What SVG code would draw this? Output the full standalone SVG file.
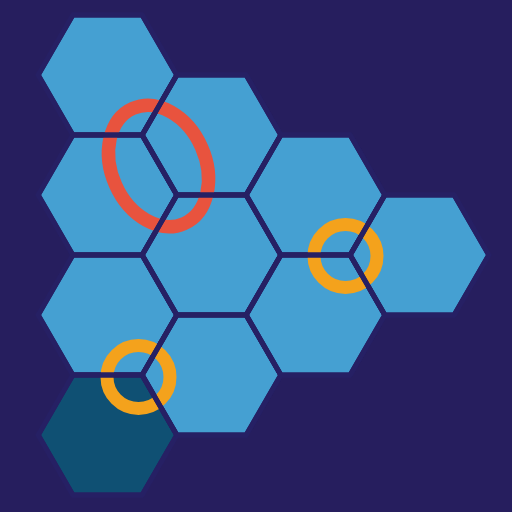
<svg xmlns="http://www.w3.org/2000/svg" xmlns:xlink="http://www.w3.org/1999/xlink" width="512" height="512" viewBox="0 0 512 512">
  <defs>
    <polygon id="hex" points="-69.3,0 -34.65,-60 34.65,-60 69.3,0 34.65,60 -34.65,60"/>
    <style>
      .cell { fill: #45A0D2; stroke: #262064; stroke-width: 5; stroke-linejoin: miter; }
      .cell.dark { fill: #0F5073; }
      .edge { fill: none; stroke: #262064; stroke-width: 5; stroke-linejoin: miter; }
      .ring { fill: none; stroke-width: 13; }
      .red { stroke: #E8533E; stroke-width: 13.5; }
      .orange { stroke: #F4A21C; }
    </style>
  </defs>
  <rect x="0" y="0" width="512" height="512" fill="#261E5E"/>

  <g id="hex-c0-r0"><use xlink:href="#hex" href="#hex" class="cell" x="107.5" y="75"/></g>
  <g id="hex-c0-r1"><use xlink:href="#hex" href="#hex" class="cell" x="107.5" y="195"/></g>
  <g id="hex-c0-r2"><use xlink:href="#hex" href="#hex" class="cell" x="107.5" y="315"/></g>
  <g id="hex-c0-r3"><use xlink:href="#hex" href="#hex" class="cell dark" x="107.5" y="435"/></g>
  <g id="hex-c1-r0"><use xlink:href="#hex" href="#hex" class="cell" x="211.5" y="135"/></g>
  <g id="hex-c1-r1"><use xlink:href="#hex" href="#hex" class="cell" x="211.5" y="255"/></g>
  <g id="hex-c1-r2"><use xlink:href="#hex" href="#hex" class="cell" x="211.5" y="375"/></g>
  <g id="hex-c2-r0"><use xlink:href="#hex" href="#hex" class="cell" x="315.5" y="195"/></g>
  <g id="hex-c2-r1"><use xlink:href="#hex" href="#hex" class="cell" x="315.5" y="315"/></g>
  <g id="hex-c3-r0"><use xlink:href="#hex" href="#hex" class="cell" x="419.5" y="255"/></g>

  <g id="rings">
    <ellipse class="ring red" cx="0" cy="0" rx="47" ry="63" transform="translate(158.5,166) rotate(-24)"/>
    <circle class="ring orange" cx="345.5" cy="256" r="31.5"/>
    <circle class="ring orange" cx="138.5" cy="377" r="31.5"/>
  </g>

  <g id="edges">
    <use xlink:href="#hex" href="#hex" class="edge" x="107.5" y="75"/>
    <use xlink:href="#hex" href="#hex" class="edge" x="107.5" y="195"/>
    <use xlink:href="#hex" href="#hex" class="edge" x="107.5" y="315"/>
    <use xlink:href="#hex" href="#hex" class="edge" x="107.5" y="435"/>
    <use xlink:href="#hex" href="#hex" class="edge" x="211.5" y="135"/>
    <use xlink:href="#hex" href="#hex" class="edge" x="211.5" y="255"/>
    <use xlink:href="#hex" href="#hex" class="edge" x="211.5" y="375"/>
    <use xlink:href="#hex" href="#hex" class="edge" x="315.5" y="195"/>
    <use xlink:href="#hex" href="#hex" class="edge" x="315.5" y="315"/>
    <use xlink:href="#hex" href="#hex" class="edge" x="419.5" y="255"/>
  </g>
</svg>
